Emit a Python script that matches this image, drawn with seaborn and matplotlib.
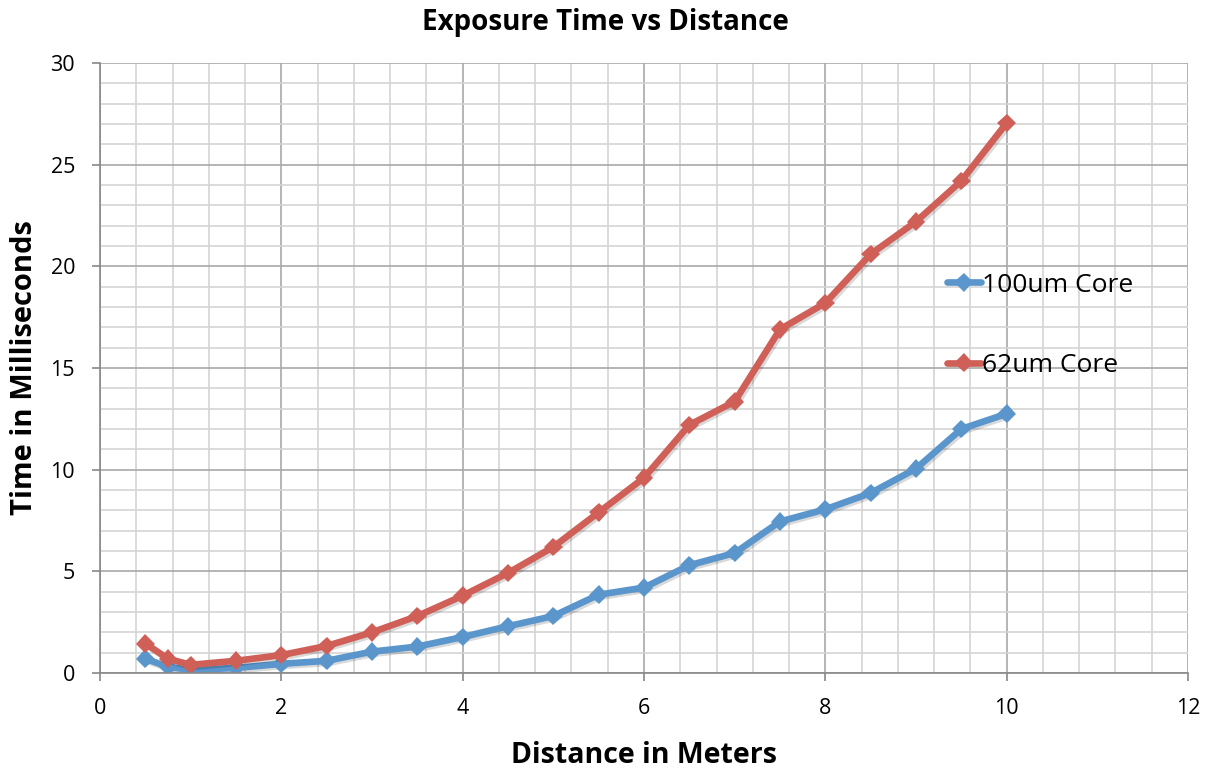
import matplotlib
matplotlib.use("Agg")
import matplotlib.pyplot as plt
import seaborn as sns
import pandas as pd
from matplotlib.ticker import MultipleLocator
import matplotlib.patheffects as pe

distance = [0.5, 0.75, 1, 1.5, 2, 2.5, 3, 3.5, 4, 4.5, 5, 5.5, 6, 6.5, 7, 7.5, 8, 8.5, 9, 9.5, 10]
core_100 = [0.7, 0.3, 0.15, 0.25, 0.45, 0.6, 1.05, 1.3, 1.77, 2.3, 2.8, 3.85, 4.2, 5.3, 5.9, 7.45, 8.05, 8.85, 10.05, 12.0, 12.75]
core_62 = [1.45, 0.7, 0.4, 0.6, 0.88, 1.33, 2.0, 2.8, 3.8, 4.92, 6.2, 7.9, 9.6, 12.2, 13.35, 16.9, 18.2, 20.6, 22.2, 24.2, 27.05]
series_names = ["100um Core", "62um Core"]
colors = ["#5a95cc", "#cf5f57"]

df = pd.concat([
    pd.DataFrame({"Distance": distance, "Time": core_100, "Series": series_names[0]}),
    pd.DataFrame({"Distance": distance, "Time": core_62, "Series": series_names[1]}),
])

sns.set_theme(style="white")
plt.rcParams['font.family'] = ['Open Sans', 'DejaVu Sans']
plt.rcParams['text.color'] = 'black'
plt.rcParams['axes.labelcolor'] = 'black'

fig = plt.figure(figsize=(12.11, 7.71), dpi=100)
ax = fig.add_axes([100/1211, 1-673/771, (1188-100)/1211, (673-63)/771])

sns.lineplot(data=df, x="Distance", y="Time", hue="Series", palette=colors,
             marker="D", markersize=9.5, markeredgewidth=0, linewidth=4.8, ax=ax,
             legend=True)
for ln in ax.get_lines():
    ln.set_path_effects([pe.SimpleLineShadow(offset=(1.5, -1.5), alpha=0.15, shadow_color='black'), pe.Normal()])

ax.set_xlim(0, 12)
ax.set_ylim(0, 30)
ax.xaxis.set_major_locator(MultipleLocator(2))
ax.xaxis.set_minor_locator(MultipleLocator(0.4))
ax.yaxis.set_major_locator(MultipleLocator(5))
ax.yaxis.set_minor_locator(MultipleLocator(1))
ax.grid(which="major", color="#a8a8a8", linewidth=1.2)
ax.grid(which="minor", color="#d4d4d4", linewidth=1.2)
ax.set_axisbelow(True)
for s in ["top", "right"]:
    ax.spines[s].set_visible(False)
for s in ["left", "bottom"]:
    ax.spines[s].set_color("#888888")
    ax.spines[s].set_linewidth(1.2)
ax.tick_params(which="major", direction="out", length=6, width=1.2, color="#888888",
               labelsize=15.5, pad=12, left=True, bottom=True, labelcolor="black")
ax.tick_params(which="minor", length=0)

ax.set_xlabel("Distance in Meters", fontsize=20.5, fontweight="bold", labelpad=16)
ax.set_ylabel("Time in Milliseconds", fontsize=21, fontweight="bold", labelpad=8)
fig.suptitle("Exposure Time vs Distance", fontsize=20, fontweight="bold", y=0.99)

handles, labels = ax.get_legend_handles_labels()
for h in handles:
    h.set_path_effects([pe.Normal()])
leg = ax.legend(handles, labels, loc="upper left", bbox_to_anchor=(936/1211, 1-262/771),
                bbox_transform=fig.transFigure, frameon=False, fontsize=19,
                handlelength=1.3, handletextpad=0.05, labelspacing=2.1, borderaxespad=0)

fig.savefig("out.png", dpi=100)
